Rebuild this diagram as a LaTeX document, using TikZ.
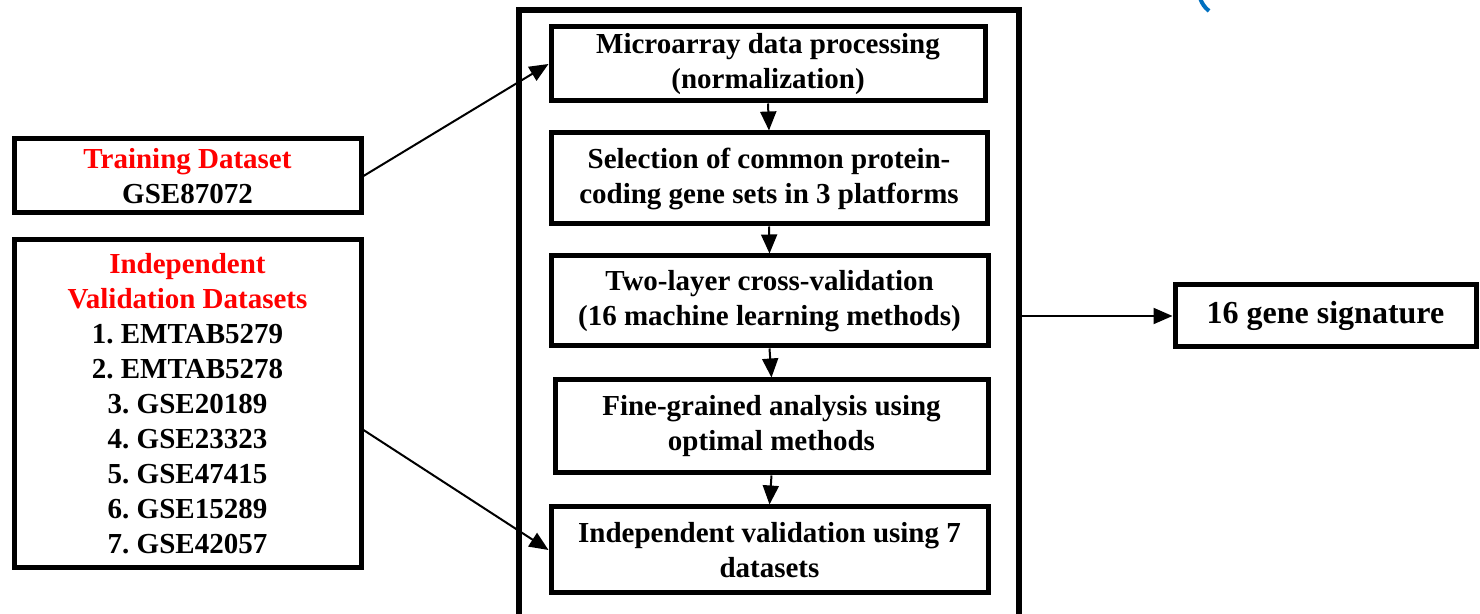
\documentclass[tikz,border=0pt]{standalone}
\usepackage{fontspec}
\setmainfont{Liberation Serif}
\usetikzlibrary{arrows.meta}
\definecolor{headred}{RGB}{255,0,0}
\definecolor{markblue}{RGB}{0,112,192}
\frenchspacing
\begin{document}
\begin{tikzpicture}[
    x=0.5pt, y=-0.5pt,
    every node/.style={font=\fontsize{14.5}{17.5}\selectfont\bfseries},
    stepbox/.style={draw, line width=2.5pt, align=center, inner sep=0pt},
    flow/.style={line width=1pt, -{Triangle[length=9.5pt,width=8pt]}}
]
\useasboundingbox (0,0) rectangle (1480,614);

% Outer frame
\node[draw, line width=3pt, minimum width=250pt, minimum height=306pt, inner sep=0pt] (frame) at (768.5,316) {};

% Pipeline
\node[stepbox, minimum width=217pt, minimum height=37pt] (m1) at (768,64) {Microarray data processing\\(normalization)};
\node[stepbox, minimum width=218pt, minimum height=45.5pt] (m2) at (769,178.5) {Selection of common protein-\\coding gene sets in 3 platforms};
\node[stepbox, minimum width=218.5pt, minimum height=45pt] (m3) at (769.5,301) {Two-layer cross-validation\\(16 machine learning methods)};
\node[stepbox, minimum width=216.5pt, minimum height=46.5pt] (m4) at (771.5,426.5) {Fine-grained analysis using\\optimal methods};
\node[stepbox, minimum width=218.5pt, minimum height=43pt] (m5) at (769.5,550) {Independent validation using 7\\datasets};

% Inputs
\node[stepbox, minimum width=173.5pt, minimum height=37pt] (train) at (187.5,176) {\textcolor{headred}{Training Dataset}\\GSE87072};
\node[stepbox, minimum width=173.5pt, minimum height=164pt] (indep) at (187.5,404) {\textcolor{headred}{Independent}\\\textcolor{headred}{Validation Datasets}\\1. EMTAB5279\\2. EMTAB5278\\3. GSE20189\\4. GSE23323\\5. GSE47415\\6. GSE15289\\7. GSE42057};

% Output
\node[stepbox, minimum width=150.5pt, minimum height=31pt, font=\fontsize{16}{19}\selectfont\bfseries] (gene) at (1325.5,316) {16 gene signature};

% Edges
\draw[flow] (train.east) -- (m1.west);
\draw[flow] ([yshift=-13pt]indep.east) -- (m5.west);

\draw[flow] (m1.south) -- (m2.north);
\draw[flow] (m2.south) -- (m3.north);
\draw[flow] (m3.south) -- (m4.north);
\draw[flow] (m4.south) -- (m5.north);

\draw[flow] (frame.east) -- (gene.west);

% Cut-off mark
\draw[markblue, line width=2pt] (1200,-2) to[bend right=15] (1209,11);

\end{tikzpicture}
\end{document}
